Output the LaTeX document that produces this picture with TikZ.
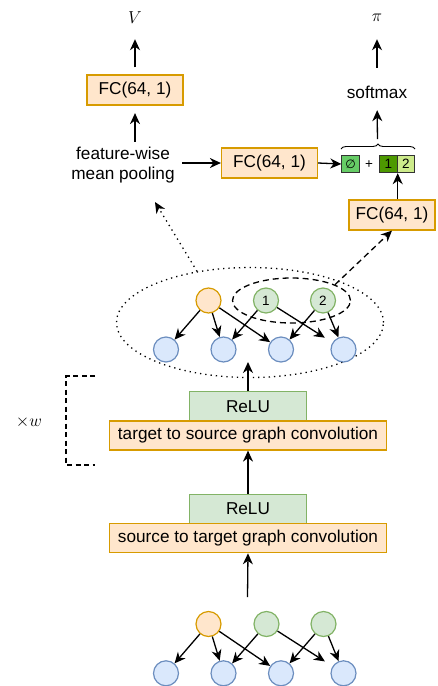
\documentclass[tikz,border=0pt]{standalone}
\usepackage{fontspec}
\setmainfont{Liberation Sans}
\newfontfamily\symfont{DejaVu Sans}
\usetikzlibrary{shapes.geometric,arrows.meta,decorations.pathreplacing,calc}
\definecolor{orfill}{HTML}{FFE6CC}
\definecolor{ordraw}{HTML}{D79B00}
\definecolor{grfill}{HTML}{D5E8D4}
\definecolor{grdraw}{HTML}{82B366}
\definecolor{blfill}{HTML}{DAE8FC}
\definecolor{bldraw}{HTML}{6C8EBF}
\definecolor{emptyg}{HTML}{66CC66}
\definecolor{darkg}{HTML}{4D9900}
\definecolor{lightg}{HTML}{CDEB8B}
\tikzset{
  txt/.style={font=\fontsize{17.2}{20.5}\selectfont},
  smalltxt/.style={font=\fontsize{13.5}{15}\selectfont},
  obox/.style={draw=ordraw, fill=orfill, line width=1.2pt, inner sep=0pt, minimum height=30pt, txt},
  gbox/.style={draw=grdraw, fill=grfill, line width=1.2pt, inner sep=0pt, minimum height=29.3pt, minimum width=117.7pt, txt},
  onode/.style={circle, draw=ordraw, fill=orfill, line width=1.2pt, minimum size=25pt, inner sep=0pt},
  gnode/.style={circle, draw=grdraw, fill=grfill, line width=1.2pt, minimum size=25pt, inner sep=0pt, smalltxt},
  bnode/.style={circle, draw=bldraw, fill=blfill, line width=1.2pt, minimum size=25pt, inner sep=0pt},
  sq/.style={draw=black!80, line width=0.9pt, minimum width=17.5pt, minimum height=17.5pt, inner sep=0pt, smalltxt},
  arr/.style={-{Stealth[length=11pt,width=10pt,inset=3.5pt]}, line width=1.3pt},
  mydots/.style={dash pattern=on 1.3pt off 4pt, line width=1.3pt},
  mydash/.style={dash pattern=on 6pt off 4pt, line width=1.3pt},
}
\begin{document}
\begin{tikzpicture}[x=1pt,y=-1pt]
\useasboundingbox (0,0) rectangle (437,686);

% ---------- top heads ----------
\node[minimum height=42pt, inner sep=0pt, font=\fontsize{18}{20}\selectfont] (V) at (135,18) {$V$};
\node[obox, minimum width=96pt] (fcV) at (135,90) {FC(64, 1)};
\node[txt, align=center, inner sep=0pt, minimum height=46pt] (pool) at (123,165) {feature-wise\\mean pooling};
\node[obox, minimum width=96pt] (fcM) at (269.5,163) {FC(64, 1)};
\node[sq, fill=emptyg] (e) at (350.5,164) {\symfont\fontsize{12}{14}\selectfont ∅};
\node[smalltxt, inner sep=0pt] (plus) at (369,165) {+};
\node[sq, fill=darkg] (q1) at (388.5,164) {1};
\node[sq, fill=lightg] (q2) at (406,164) {2};
\node[txt, inner sep=0pt, minimum height=36pt] (soft) at (377,92) {softmax};
\node[minimum height=42pt, inner sep=0pt, font=\fontsize{18}{20}\selectfont] (pi) at (377,18) {$\pi$};
\node[obox, minimum width=86pt] (fcR) at (392,215) {FC(64, 1)};

\draw[line width=0.9pt, decorate, decoration={brace, amplitude=5pt}] (341,149) -- (415,149);
\coordinate (bt) at (377.5,143);

\draw[arr, shorten <=7pt] (fcV) -- (V);
\draw[arr, shorten >=7.5pt] (fcV.south |- pool.north) -- (fcV.south);
\draw[arr, shorten <=7.5pt] (pool.east |- fcM.west) -- (fcM.west);
\draw[arr] (fcM.east) -- (e.west);
\draw[arr, shorten <=4pt] (bt) -- (soft);
\draw[arr, shorten <=6pt] (soft) -- (pi);
\draw[arr] (fcR.north -| q1.south east) -- (q1.south east);

% ---------- upper graph ----------
\node[ellipse, draw, mydots, minimum width=267pt, minimum height=110pt, inner sep=0pt] (big) at (250,322.5) {};
\node[ellipse, draw, mydash, minimum width=118pt, minimum height=45pt, inner sep=0pt] (small) at (291.5,300.5) {};

\node[onode] (to) at (208.5,300.5) {};
\node[gnode] (tg1) at (266,300.5) {1};
\node[gnode] (tg2) at (323,300.5) {2};
\node[bnode] (tb1) at (166,349.5) {};
\node[bnode] (tb2) at (223.5,349.5) {};
\node[bnode] (tb3) at (281,349.5) {};
\node[bnode] (tb4) at (343.5,349.5) {};

\draw[arr] (to) -- (tb1);
\draw[arr] (to) -- (tb2);
\draw[arr] (to) -- (tb3);
\draw[arr] (tg1) -- (tb2);
\draw[arr, shorten >=9pt] (tg1) -- (tb4);
\draw[arr] (tg2) -- (tb3);
\draw[arr] (tg2) -- (tb4);

\coordinate (poolTip) at (155,202);
\draw[arr, mydots] (big.136) -- (poolTip);
\draw[arr, mydash] (small.20) -- (fcR.south);

% ---------- conv blocks ----------
\node[gbox] (relu1) at (248,406.3) {ReLU};
\node[obox, minimum width=277.3pt, minimum height=29pt] (t2s) at (248,435.5) {target to source graph convolution};
\node[gbox] (relu2) at (248,508.8) {ReLU};
\node[obox, minimum width=277.3pt, minimum height=29.4pt] (s2t) at (248,538) {source to target graph convolution};

\coordinate (topIn) at (248,362);
\draw[arr] (relu1.north) -- (topIn);
\draw[arr] (t2s.south |- relu2.north) -- (t2s.south);
\coordinate (botOut) at (247.5,597);
\draw[arr] (botOut) -- (s2t.south);

% bracket
\coordinate (k1) at (95,376);
\coordinate (k2) at (66,376);
\coordinate (k3) at (66,465);
\coordinate (k4) at (95,465);
\draw[dash pattern=on 5pt off 3.5pt, line width=1.2pt] (k1) -- (k2) -- (k3) -- (k4);
\node[inner sep=0pt, font=\fontsize{17.5}{20}\selectfont] (times) at (29,421.7) {$\times w$};

% ---------- lower graph ----------
\node[onode] (bo) at (208.5,624) {};
\node[gnode] (bg1) at (266.5,624) {};
\node[gnode] (bg2) at (323.5,624) {};
\node[bnode] (bb1) at (166,673.3) {};
\node[bnode] (bb2) at (223.5,673.3) {};
\node[bnode] (bb3) at (281,673.3) {};
\node[bnode] (bb4) at (343.5,673.3) {};

\draw[arr] (bo) -- (bb1);
\draw[arr] (bo) -- (bb2);
\draw[arr] (bo) -- (bb3);
\draw[arr] (bg1) -- (bb2);
\draw[arr, shorten >=9pt] (bg1) -- (bb4);
\draw[arr] (bg2) -- (bb3);
\draw[arr] (bg2) -- (bb4);
\end{tikzpicture}
\end{document}
